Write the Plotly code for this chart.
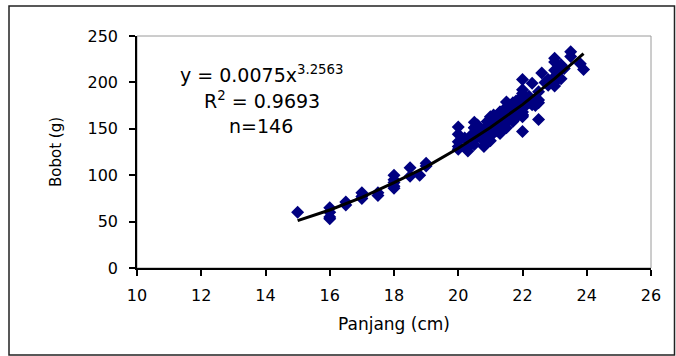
import plotly.graph_objects as go

# Observed data: length (cm) and weight (g)
panjang = [
    15.0, 16.0, 16.0, 16.0, 16.0, 16.5, 16.5, 17.0, 17.0, 17.0,
    17.5, 17.5, 18.0, 18.0, 18.0, 18.0, 18.0, 18.5, 18.5, 18.8,
    19.0, 19.0, 20.0, 20.0, 20.0, 20.0, 20.3, 20.3, 20.5, 20.5,
    20.5, 20.5, 20.5, 20.6, 20.6, 20.7, 20.8, 20.8, 20.8, 21.0,
    21.0, 21.0, 21.0, 21.0, 21.0, 21.0, 21.1, 21.1, 21.2, 21.2,
    21.2, 21.3, 21.3, 21.3, 21.4, 21.4, 21.5, 21.5, 21.5, 21.5,
    21.5, 21.6, 21.6, 21.6, 21.7, 21.7, 21.7, 21.8, 21.8, 21.8,
    22.0, 22.0, 22.0, 22.0, 22.0, 22.0, 22.0, 22.0, 22.0, 22.1,
    22.2, 22.3, 22.3, 22.4, 22.5, 22.5, 22.5, 22.6, 22.8, 22.8,
    23.0, 23.0, 23.0, 23.0, 23.0, 23.2, 23.2, 23.5, 23.5, 23.8,
    23.9,
    21.0, 21.0, 21.2, 21.3, 21.5, 21.5, 21.6, 21.7, 22.0, 22.0,
    20.5, 20.6, 20.8, 21.1, 21.4, 21.8, 22.0, 21.0, 20.5, 21.3,
    21.6, 22.0, 21.2, 20.3, 21.5,
    20.0, 20.2, 20.4, 20.7, 20.9, 21.1, 21.3, 21.4, 21.7, 21.8,
    21.9, 22.0, 22.2, 22.4, 22.5, 22.7, 23.0, 23.1, 23.3, 20.9,
]
bobot = [
    60, 65, 60, 55, 53, 71, 68, 81, 77, 75,
    81, 78, 100, 95, 88, 86, 92, 108, 99, 100,
    113, 110, 152, 144, 128, 131, 126, 130, 157, 151,
    138, 133, 145, 154, 148, 140, 131, 140, 150, 163,
    160, 147, 142, 151, 155, 137, 165, 158, 162, 155,
    148, 168, 160, 152, 170, 163, 179, 172, 165, 158,
    151, 175, 168, 160, 178, 170, 163, 176, 167, 162,
    203, 192, 188, 185, 178, 172, 165, 163, 147, 182,
    178, 199, 176, 180, 181, 178, 160, 210, 197, 203,
    226, 222, 213, 206, 196, 219, 204, 233, 228, 220,
    214,
    151, 155, 155, 160, 165, 172, 168, 170, 178, 172,
    145, 148, 140, 158, 163, 167, 165, 160, 151, 168,
    175, 185, 162, 130, 158,
    136, 140, 143, 146, 158, 150, 145, 150, 158, 180,
    170, 168, 185, 175, 190, 200, 200, 210, 215, 145,
]

# Power trendline as drawn in the chart
trend_x = [15, 16, 17, 18, 19, 20, 21, 22, 23, 23.9]
trend_y = [51, 62.5, 76, 92, 109, 129, 151.5, 176, 204, 231]

x_ticks = [10, 12, 14, 16, 18, 20, 22, 24, 26]
y_ticks = [0, 50, 100, 150, 200, 250]

FONT = "DejaVu Sans"

fig = go.Figure()
fig.add_trace(go.Scatter(
    x=panjang, y=bobot, mode="markers",
    marker=dict(symbol="diamond", size=10, color="#000080", line=dict(width=0)),
    showlegend=False, hoverinfo="skip",
))
fig.add_trace(go.Scatter(
    x=trend_x, y=trend_y, mode="lines",
    line=dict(color="black", width=3),
    showlegend=False, hoverinfo="skip",
))

W, H = 676, 356
L, R, T, B = 137, 651, 36, 268
pw, ph = R - L, B - T

def px(xp):
    return (xp - L) / pw

def py(yp):
    return (B - yp) / ph

fig.update_layout(
    width=W, height=H,
    margin=dict(l=L, r=W - R, t=T, b=H - B),
    paper_bgcolor="white", plot_bgcolor="white",
    font=dict(family=FONT, color="black", size=16),
    xaxis=dict(
        range=[10, 26], tickvals=x_ticks, ticktext=[str(v) for v in x_ticks],
        showgrid=False, zeroline=False, showline=True, linecolor="black", linewidth=1.5,
        ticks="outside", ticklen=6, tickwidth=1.5, tickcolor="black",
        tickfont=dict(family=FONT, size=16), ticklabelstandoff=6,
        title=dict(text="Panjang (cm)", font=dict(family=FONT, size=17), standoff=14),
    ),
    yaxis=dict(
        range=[0, 250], tickvals=y_ticks, ticktext=[str(v) for v in y_ticks],
        showgrid=False, zeroline=False, showline=True, linecolor="black", linewidth=1.5,
        ticks="outside", ticklen=6, tickwidth=1.5, tickcolor="black",
        tickfont=dict(family=FONT, size=16), ticklabelstandoff=8,
        title=dict(text="Bobot (g)", font=dict(family=FONT, size=15), standoff=22),
    ),
    shapes=[
        dict(type="rect", xref="paper", yref="paper", x0=0, x1=1, y0=0, y1=1,
             line=dict(color="#9a9a9a", width=1), layer="below"),
        dict(type="rect", xref="paper", yref="paper",
             x0=px(9), x1=px(674.5), y0=py(355), y1=py(6),
             line=dict(color="#222222", width=1.5), layer="below"),
    ],
    annotations=[
        dict(text="y = 0.0075x<sup>3.2563</sup>", xref="paper", yref="paper",
             x=px(262), y=py(74), xanchor="center", yanchor="middle",
             showarrow=False, font=dict(family=FONT, size=19)),
        dict(text="R<sup>2</sup> = 0.9693", xref="paper", yref="paper",
             x=px(262), y=py(100), xanchor="center", yanchor="middle",
             showarrow=False, font=dict(family=FONT, size=19)),
        dict(text="n=146", xref="paper", yref="paper",
             x=px(261), y=py(126), xanchor="center", yanchor="middle",
             showarrow=False, font=dict(family=FONT, size=19)),
    ],
)

fig.write_html(
    "out.html",
    config={"displayModeBar": False},
    post_script="document.body.style.margin='0';document.body.style.overflow='hidden';",
)
